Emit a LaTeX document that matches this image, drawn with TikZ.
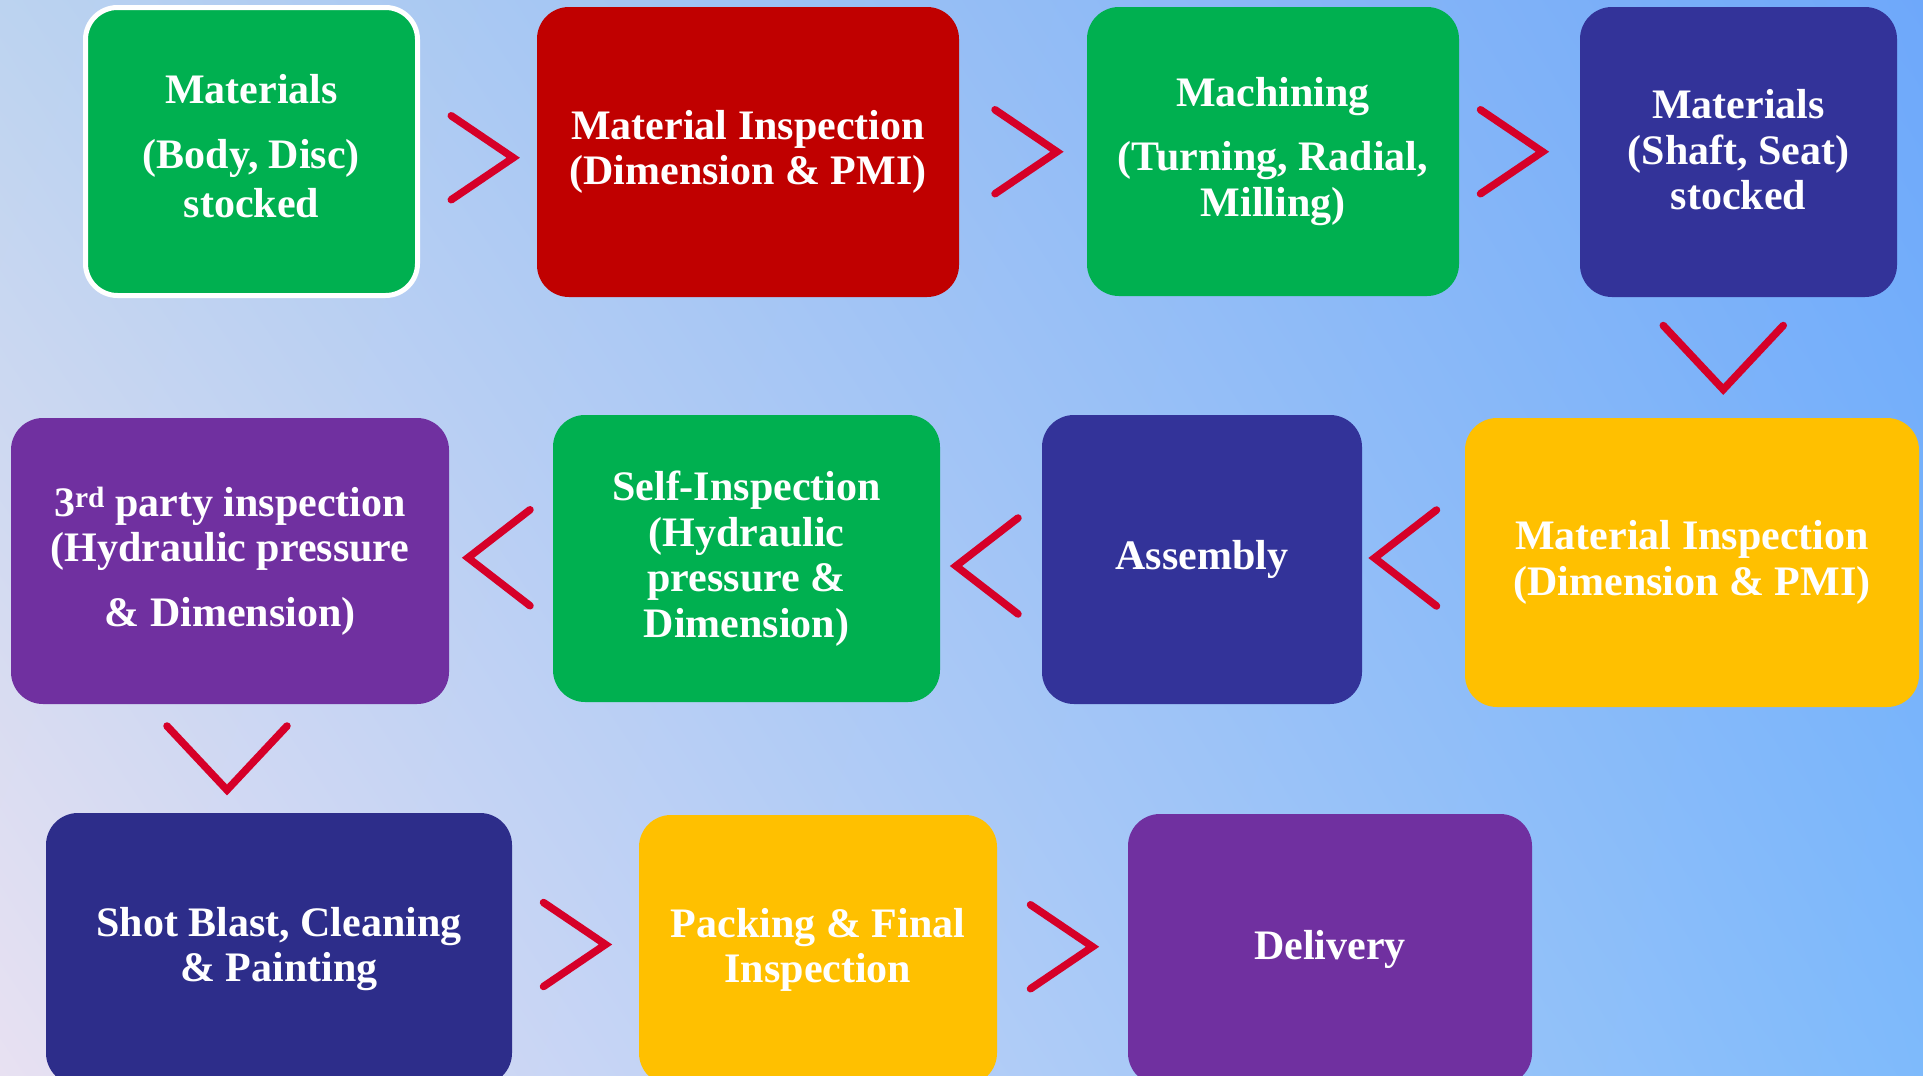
\documentclass[tikz,border=0pt]{standalone}
\usepackage{fontspec}
\setmainfont{Liberation Serif}
\usepackage{tikz}
\usetikzlibrary{calc,shadings}

\definecolor{bgul}{RGB}{188,211,240}
\definecolor{bgur}{RGB}{110,168,250}
\definecolor{bgll}{RGB}{232,225,242}
\definecolor{bglr}{RGB}{126,186,251}
\definecolor{stepgreen}{RGB}{0,176,80}
\definecolor{stepred}{RGB}{192,0,0}
\definecolor{stepnavy}{RGB}{51,51,153}
\definecolor{stepdark}{RGB}{45,45,138}
\definecolor{steppurple}{RGB}{112,48,160}
\definecolor{stepyellow}{RGB}{255,192,0}
\definecolor{chevred}{RGB}{214,0,40}

\begin{document}
\begin{tikzpicture}[x=1pt, y=-1pt,
  box/.style={rounded corners=32pt, inner sep=0pt, outer sep=0pt, align=center, text=white,
    font=\bfseries\fontsize{42}{45.5}\selectfont},
  chev/.style={draw=chevred, line width=7.5pt, line cap=round},
  chevright/.pic={\draw[chev] (-31,-42) -- (31,0) -- (-31,42);},
  chevleft/.pic={\draw[chev] (31,-48) -- (-31,0) -- (31,48);},
  chevdown/.pic={\draw[chev] (-60,-32) -- (0,32) -- (60,-32);}]
  \useasboundingbox (0,0) rectangle (1923,1076);
  \clip (0,0) rectangle (1923,1076);
  \shade[upper left=bgul, upper right=bgur, lower left=bgll, lower right=bglr] (0,0) rectangle (1923,1076);

  \node[box, fill=stepgreen, draw=white, line width=5pt, minimum width=332pt, minimum height=288pt] (b1) at (251.5,151.5)
    {Materials\\[19pt](Body, Disc)\\[4pt]stocked\rule[-11pt]{0pt}{11pt}};
  \node[box, fill=stepred, minimum width=422pt, minimum height=290pt] (b2) at (748,152)
    {Material Inspection\\(Dimension \& PMI)};
  \node[box, fill=stepgreen, minimum width=372pt, minimum height=289pt] (b3) at (1273,151.5)
    {Machining\\[19pt](Turning, Radial,\\Milling)};
  \node[box, fill=stepnavy, minimum width=317pt, minimum height=290pt] (b4) at (1738.5,152)
    {Materials\\(Shaft, Seat)\\stocked\rule[-5pt]{0pt}{5pt}};

  \node[box, fill=stepyellow, minimum width=454pt, minimum height=289pt] (b8) at (1692,562.5)
    {Material Inspection\\(Dimension \& PMI)};
  \node[box, fill=stepnavy, minimum width=320pt, minimum height=289pt] (b7) at (1202,559.5)
    {Assembly};
  \node[box, fill=stepgreen, minimum width=387pt, minimum height=287pt] (b6) at (746.5,558.5)
    {Self-Inspection\\(Hydraulic\\pressure \&\\Dimension)};
  \node[box, fill=steppurple, minimum width=438pt, minimum height=286pt] (b5) at (230,561)
    {3\textsuperscript{rd} party inspection\\(Hydraulic pressure\\[19pt]\& Dimension)};

  \node[box, fill=stepdark, minimum width=466pt, minimum height=272pt] (b9) at (279,949)
    {Shot Blast, Cleaning\\\& Painting};
  \node[box, fill=stepyellow, minimum width=358pt, minimum height=270pt] (b10) at (818,950)
    {Packing \& Final\\Inspection};
  \node[box, fill=steppurple, minimum width=404pt, minimum height=271pt] (b11) at (1330,949.5)
    {Delivery};

  \pic at ($(b1.east)!.5!(b2.west)+(5,6)$) {chevright};
  \pic at ($(b2.east)!.5!(b3.west)+(3,0)$) {chevright};
  \pic at ($(b3.east)!.5!(b4.west)+(-8,0)$) {chevright};
  \pic at ($(b4.south)!.5!(b8.north)+(8,0)$) {chevdown};
  \pic at ($(b8.west)!.5!(b7.east)+(-8,-3)$) {chevleft};
  \pic at ($(b7.west)!.5!(b6.east)+(-4,7)$) {chevleft};
  \pic at ($(b6.west)!.5!(b5.east)+(-2,-2)$) {chevleft};
  \pic at ($(b5.south)+(-3,54)$) {chevdown};
  \pic at ($(b9.east)!.5!(b10.west)+(-1,-5)$) {chevright};
  \pic at ($(b10.east)!.5!(b11.west)+(-1,-3)$) {chevright};
\end{tikzpicture}
\end{document}
